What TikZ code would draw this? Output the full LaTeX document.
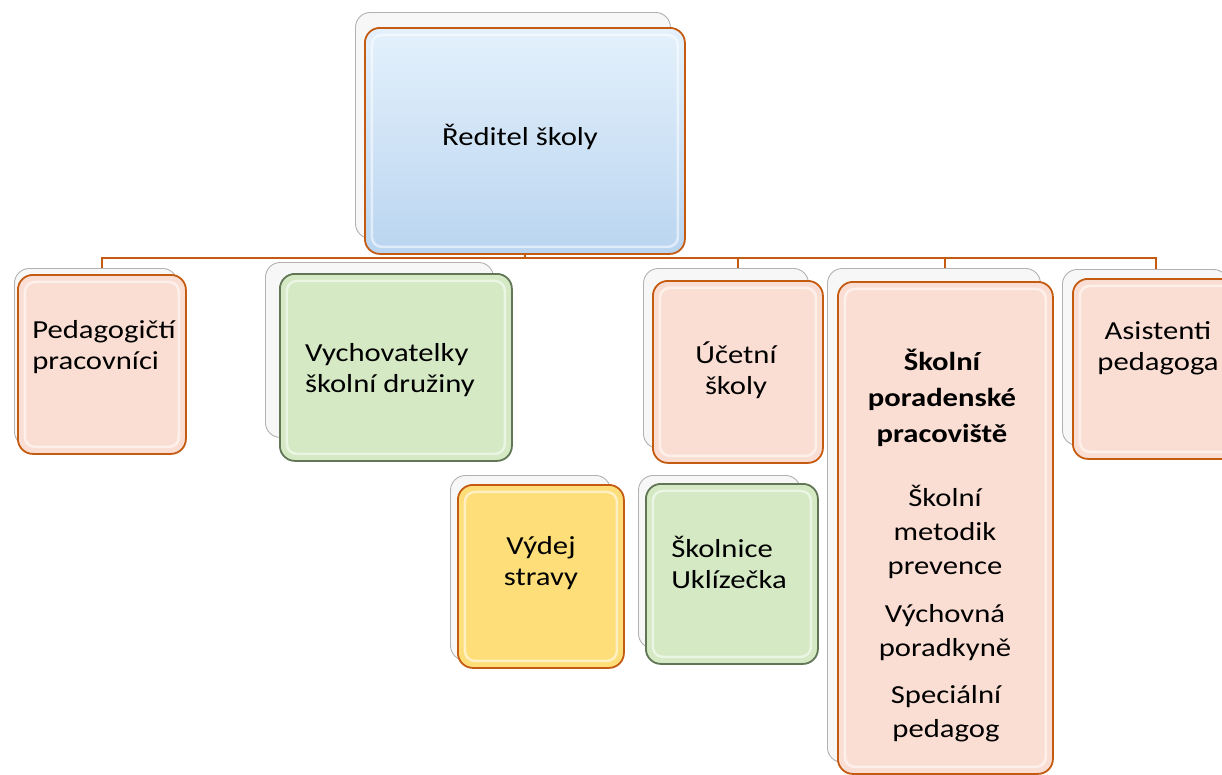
\documentclass[tikz,border=0pt]{standalone}
\usepackage{fontspec}
\setmainfont{Carlito}[FakeStretch=1.18]
\usepackage{xcolor}
\usepackage{tikz}
\usetikzlibrary{positioning,backgrounds,calc}
\definecolor{oorange}{RGB}{197,90,17}
\definecolor{opink}{RGB}{251,222,211}
\definecolor{ogreen}{RGB}{212,233,196}
\definecolor{ogreenline}{RGB}{96,118,84}
\definecolor{oyellow}{RGB}{254,222,121}
\definecolor{obluetop}{RGB}{228,241,252}
\definecolor{obluebot}{RGB}{186,213,240}

\begin{document}
\begin{tikzpicture}[
  x=1pt, y=-1pt, font=\fontsize{26}{31}\selectfont,
  oback/.style={draw=black!30, line width=0.9pt, rounded corners=15pt, fill=black!3,
                anchor=north west, inner sep=0pt},
  obox/.style={draw=oorange, line width=1.8pt, rounded corners=15pt, fill=opink,
               anchor=north west, inner sep=0pt,
               path picture={\draw[white, opacity=0.55, line width=2.5pt, rounded corners=10pt]
                 ([shift={(7pt,-7pt)}]path picture bounding box.north west) rectangle
                 ([shift={(-7pt,7pt)}]path picture bounding box.south east);}},
  ogbox/.style={obox, draw=ogreenline, fill=ogreen},
  otext/.style={align=center, inner sep=0pt},
  olink/.style={draw=oorange, line width=2pt},
]
  \useasboundingbox (0,0) rectangle (1222,774);
  \coordinate (bus) at (0,258);
  % 1. director
  \node[oback, minimum width=315, minimum height=226] (reditelB) at (355,12) {};
  \node[obox, top color=obluetop, bottom color=obluebot,
        minimum width=320, minimum height=226] (reditel) at (364,27) {};
  \node[otext] (reditelT) at (520,137) {Ředitel školy};
  % 2. first row
  \node[oback, minimum width=163, minimum height=178] (pedB) at (14,268) {};
  \node[obox, minimum width=168, minimum height=179] (ped) at (17,274) {};
  \node[otext, align=left] (pedT) at (104,347) {Pedagogičtí\\pracovníci};

  \node[oback, minimum width=228, minimum height=175] (vychB) at (265,262) {};
  \node[ogbox, minimum width=232, minimum height=187] (vych) at (279,273) {};
  \node[otext, align=left] (vychT) at (390,370) {Vychovatelky\\školní družiny};

  \node[oback, minimum width=165, minimum height=180] (ucetB) at (643,268) {};
  \node[obox, minimum width=170, minimum height=182] (ucet) at (652,280) {};
  \node[otext] (ucetT) at (736,370) {Účetní\\školy};

  \node[oback, minimum width=213, minimum height=494] (skporB) at (827,268) {};
  \node[obox, minimum width=215, minimum height=492] (skpor) at (837,281) {};
  \node[otext, font=\fontsize{26}{36}\selectfont\bfseries] (skporT) at (942,398)
    {Školní\\poradenské\\pracoviště};
  \node[otext, font=\fontsize{26}{34}\selectfont] (metodT) at (945,532)
    {Školní\\metodik\\prevence};
  \node[otext, font=\fontsize{26}{34}\selectfont] (poradT) at (945,633)
    {Výchovná\\poradkyně};
  \node[otext, font=\fontsize{26}{34}\selectfont] (specT) at (946,714)
    {Speciální\\pedagog};

  \node[oback, minimum width=166, minimum height=176] (asisB) at (1062,269) {};
  \node[obox, minimum width=166, minimum height=180] (asis) at (1072,278) {};
  \node[otext] (asisT) at (1158,348) {Asistenti\\pedagoga};
  % 3. second row
  \node[oback, minimum width=160, minimum height=185] (vydejB) at (450,475) {};
  \node[obox, fill=oyellow, minimum width=166, minimum height=183] (vydej) at (457,484) {};
  \node[otext] (vydejT) at (541,563) {Výdej\\stravy};

  \node[oback, minimum width=162, minimum height=173] (sklB) at (638,475) {};
  \node[ogbox, minimum width=172, minimum height=180] (skl) at (645,483) {};
  \node[otext, align=left] (sklT) at (729,562) {Školnice\\Uklízečka};
  % links
  \begin{scope}[on background layer]
    \draw[olink] (reditel.south) -- (reditel.south |- bus);
    \draw[olink] (ped.north) -- (ped.north |- bus) -- (asis.north |- bus) -- (asis.north);
    \foreach \n in {ucet,skpor} \draw[olink] (\n.north |- bus) -- (\n.north);
  \end{scope}
\end{tikzpicture}
\end{document}
